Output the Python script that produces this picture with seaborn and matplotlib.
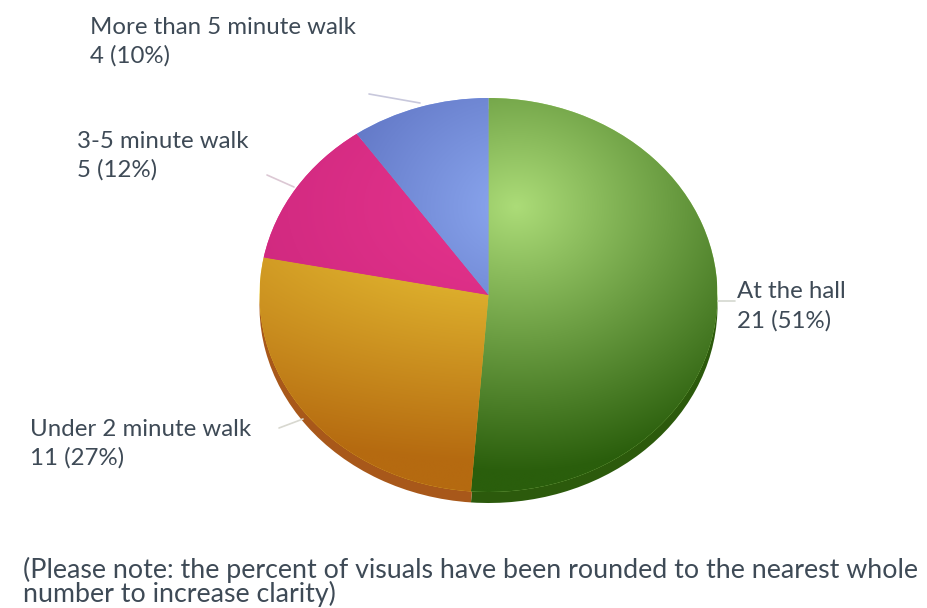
import numpy as np
import matplotlib
matplotlib.use("Agg")
import matplotlib.pyplot as plt
from matplotlib.colors import to_rgb
import seaborn as sns

categories = ["At the hall", "Under 2 minute walk", "3-5 minute walk", "More than 5 minute walk"]
counts = [21, 11, 5, 4]
percents = [51, 27, 12, 10]
light_colors = ["#acdc78", "#f0d03a", "#e8348e", "#8ca8f0"]
dark_colors = ["#2a5e0c", "#b56a10", "#c02276", "#4a5cae"]
side_colors = ["#2c5a0c", "#a8581a", "#a8581a", "#a8581a"]
x_weights = [1.0, 0.55, 0.75, 1.0]
falloffs = [1.35, 1.3, 1.5, 1.3]

sns.set_theme(style="white")
plt.rcParams["font.family"] = ["Lato", "DejaVu Sans"]

W, H = 927, 608
fig = plt.figure(figsize=(W / 100, H / 100), dpi=100)
cx, cy, rx, ry = 488.5, 295, 229, 197
def make_ax(offset=0):
    return fig.add_axes([(cx - rx) / W, 1 - (cy + ry + offset) / H, 2 * rx / W, 2 * ry / H])

# depth layer
ax0 = make_ax(11)
ax0.pie(counts, startangle=90, counterclock=False, colors=side_colors, radius=1,
        wedgeprops={"linewidth": 0})
ax0.set_aspect("auto"); ax0.set_xlim(-1, 1); ax0.set_ylim(-1, 1)

ax = make_ax()
ax.patch.set_alpha(0)
wedges, _ = ax.pie(counts, startangle=90, counterclock=False, colors=light_colors, radius=1,
                   wedgeprops={"linewidth": 0})

# radial shading, focus in the upper part of the disc
xx, yy = np.meshgrid(np.linspace(-1, 1, 500), np.linspace(1, -1, 500))
for w, lc, dc, wx, f in zip(wedges, light_colors, dark_colors, x_weights, falloffs):
    t = np.clip(np.hypot((xx - 0.12) * wx, yy - 0.45) / f, 0, 1)[..., None]
    img = np.array(to_rgb(lc)) * (1 - t) + np.array(to_rgb(dc)) * t
    im = ax.imshow(img, extent=(-1, 1, -1, 1), aspect="auto", zorder=2)
    im.set_clip_path(w)
ax.set_xlim(-1, 1); ax.set_ylim(-1, 1); ax.set_aspect("auto")

# overlay in pixel coordinates
ov = fig.add_axes([0, 0, 1, 1])
ov.set_xlim(0, W); ov.set_ylim(H, 0); ov.axis("off"); ov.patch.set_alpha(0)
sns.lineplot(x=[369, 420], y=[94, 103], color="#c8c8dc", lw=1.2, ax=ov, estimator=None)
sns.lineplot(x=[267, 294], y=[175, 187], color="#dcc8d4", lw=1.2, ax=ov, estimator=None)
sns.lineplot(x=[279, 303], y=[428, 419], color="#d8d8d0", lw=1.2, ax=ov, estimator=None)
sns.lineplot(x=[718, 735], y=[301, 301], color="#d4d8d0", lw=1.2, ax=ov, estimator=None)
ov.set_xlim(0, W); ov.set_ylim(H, 0)

fs = 17.3
col = "#3e4a56"
label_pos = [(737, 292), (30, 429), (77, 141), (90, 27)]
for name, n, p, (x, y) in zip(categories, counts, percents, label_pos):
    ov.text(x, y, name, fontsize=fs, color=col, va="center", ha="left")
    ov.text(x, y + 29, f"{n} ({p}%)", fontsize=fs, color=col, va="center", ha="left")

ov.text(23, 570, "(Please note: the percent of visuals have been rounded to the nearest whole",
        fontsize=19.3, color=col, va="center", ha="left")
ov.text(23, 594, "number to increase clarity)", fontsize=19.3, color=col, va="center", ha="left")

fig.savefig("out.png", dpi=100, facecolor="white")
